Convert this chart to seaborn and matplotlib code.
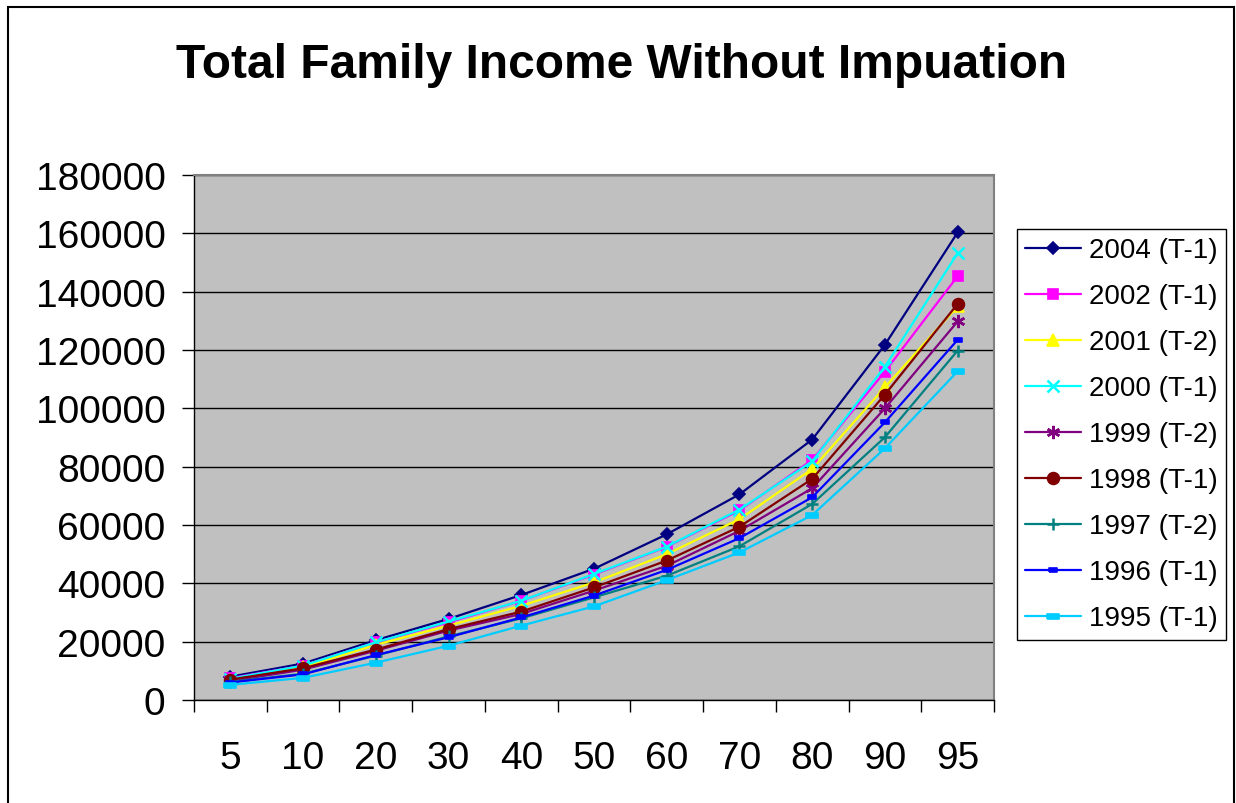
import numpy as np
import pandas as pd
import matplotlib
matplotlib.use("Agg")
import matplotlib.pyplot as plt
import seaborn as sns
from matplotlib.patches import Rectangle

sns.set_style("white")
plt.rcParams['font.family'] = ['Liberation Sans', 'DejaVu Sans']
plt.rcParams['text.color'] = 'black'
plt.rcParams['xtick.color'] = 'black'
plt.rcParams['ytick.color'] = 'black'
plt.rcParams['axes.labelcolor'] = 'black'

percentiles = ['5', '10', '20', '30', '40', '50', '60', '70', '80', '90', '95']

s2004 = [8000, 12500, 20500, 27800, 36000, 45000, 56800, 70500, 89300, 121800, 160300]
s2002 = [7500, 11800, 19800, 26600, 34000, 43000, 52500, 65000, 82300, 112600, 145300]
s2001 = [7000, 11300, 18900, 25500, 32300, 40300, 50000, 62000, 79200, 107200, 135000]
s2000 = [7300, 11800, 19800, 26900, 34000, 43200, 52600, 65300, 81800, 114300, 153200]
s1999 = [6500, 10400, 16900, 23800, 29500, 37500, 46000, 58000, 72600, 100000, 129800]
s1998 = [7000, 10900, 17300, 24300, 30300, 38600, 47800, 59400, 75800, 104700, 135800]
s1997 = [6200, 9000, 15200, 21800, 28000, 35200, 42600, 52700, 67200, 90100, 119800]
s1996 = [6000, 8800, 15400, 21500, 28300, 35800, 44600, 55500, 69500, 95200, 123500]
s1995 = [5200, 7600, 12800, 18600, 25500, 32100, 41100, 50600, 63400, 86300, 112700]

labels = ['2004 (T-1)', '2002 (T-1)', '2001 (T-2)', '2000 (T-1)', '1999 (T-2)',
          '1998 (T-1)', '1997 (T-2)', '1996 (T-1)', '1995 (T-1)']
series = [s2004, s2002, s2001, s2000, s1999, s1998, s1997, s1996, s1995]
colors = ['#000080', '#FF00FF', '#FFFF00', '#00FFFF', '#800080',
          '#800000', '#008080', '#0000FF', '#00CCFF']

dash_small = [(-1, -0.55), (1, -0.55), (1, 0.55), (-1, 0.55), (-1, -0.55)]
dash_wide = [(-1, -0.4), (1, -0.4), (1, 0.4), (-1, 0.4), (-1, -0.4)]
asterisk = [(0, 0), (0, 1), (0, 0), (0.8, 0.75), (0, 0), (0.8, -0.75), (0, 0),
            (0, -1), (0, 0), (-0.8, -0.75), (0, 0), (-0.8, 0.75), (0, 0)]
markers = ['D', 's', '^', 'x', (6, 2, 0), 'o', '+', dash_small, dash_wide]
msizes = [6.5, 7.5, 8.5, 9, 9.5, 8.5, 9, 6, 9]
mews = [1.2, 1.2, 1.2, 1.8, 1.8, 1.2, 1.8, 1.2, 1.2]

fig = plt.figure(figsize=(12.36, 8.04), dpi=100)
ax = fig.add_axes([194/1236, 1 - 701/804, 800/1236, 525/804])
ax.set_facecolor('#C0C0C0')

xpos = np.arange(len(percentiles))
for lab, vals, col, mk, ms, mew in zip(labels, series, colors, markers, msizes, mews):
    df = pd.DataFrame({'x': xpos, 'y': vals})
    sns.lineplot(data=df, x='x', y='y', ax=ax, color=col, marker=mk,
                 markersize=ms, markeredgecolor=col, markerfacecolor=col,
                 markeredgewidth=mew, linewidth=1.6, label=lab, legend=False)

ax.set_xlim(-0.5, len(percentiles) - 0.5)
ax.set_ylim(0, 180000)
ax.set_yticks(np.arange(0, 180001, 20000))
ax.set_yticklabels([str(v) for v in range(0, 180001, 20000)])
ax.set_xticks(xpos)
ax.set_xticklabels(percentiles)
ax.set_xticks(np.arange(-0.5, len(percentiles), 1.0), minor=True)
ax.tick_params(axis='x', which='major', length=0, pad=29, labelsize=28)
ax.tick_params(axis='x', which='minor', length=8.5, width=1, color='black', direction='out', bottom=True)
ax.tick_params(axis='y', which='major', length=8.5, width=1, color='black', direction='out',
               pad=12, labelsize=28, left=True)
ax.set_xlabel('')
ax.set_ylabel('')
ax.grid(True, axis='y', color='black', linewidth=1)
ax.set_axisbelow(True)
for side in ['left', 'bottom']:
    ax.spines[side].set_color('black')
    ax.spines[side].set_linewidth(1)
for side in ['top', 'right']:
    ax.spines[side].set_color('#808080')
    ax.spines[side].set_linewidth(1.5)

handles, labs = ax.get_legend_handles_labels()
leg = fig.legend(handles, labs, loc='upper left', bbox_to_anchor=(1017/1236, 1 - 230/804),
                 bbox_transform=fig.transFigure, borderaxespad=0, frameon=True, fancybox=False,
                 edgecolor='black', facecolor='white', framealpha=1, fontsize=20,
                 handlelength=2.0, handletextpad=0.3, labelspacing=0.72, borderpad=0.3)
leg.get_frame().set_linewidth(1)

fig.text(0.503, 1 - 65/804, 'Total Family Income Without Impuation', ha='center', va='center',
         fontsize=34.5, fontweight='bold', color='black')

fig.patches.append(Rectangle((8/1236, -0.05), (1234 - 8)/1236, 1.05 - 8/804,
                             transform=fig.transFigure, fill=False, edgecolor='black',
                             linewidth=1.5, clip_on=False))

fig.savefig('out.png', dpi=100, facecolor='white')
